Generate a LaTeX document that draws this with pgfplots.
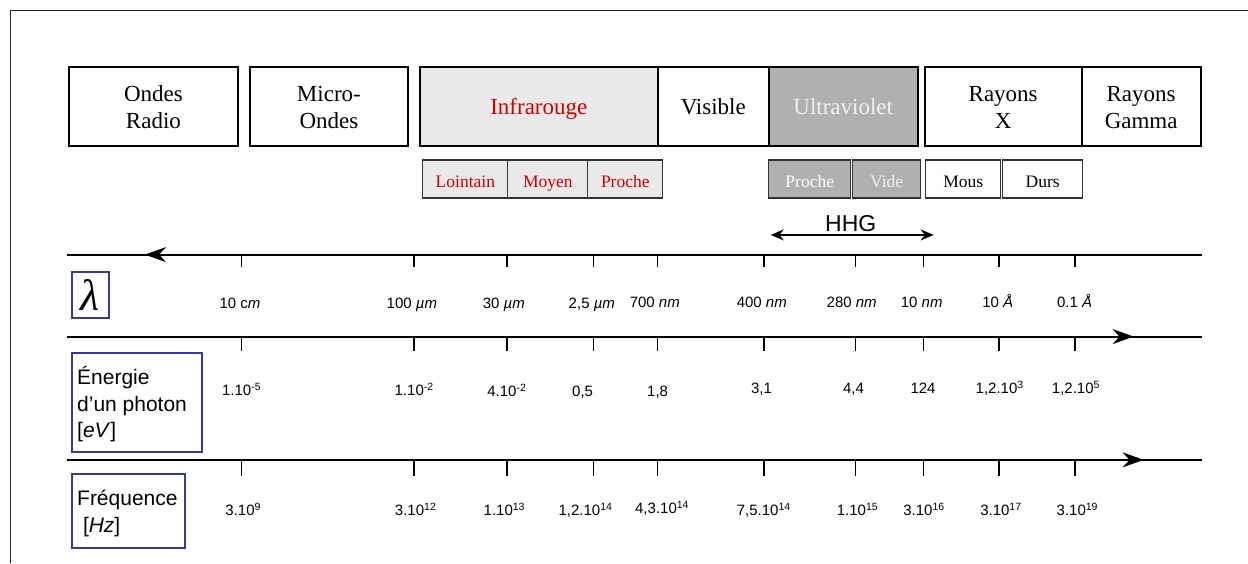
\documentclass[border=0pt]{standalone}
\usepackage{pgfplots}
\pgfplotsset{compat=1.18}
\usepackage{pgfplotstable}
\usepackage{fontspec}
\setmainfont{Liberation Sans}
\newfontfamily\serif{Liberation Serif}
\usetikzlibrary{arrows.meta}
\definecolor{irfill}{RGB}{233,233,233}
\definecolor{uvfill}{RGB}{176,176,176}
\definecolor{redtxt}{RGB}{210,0,0}
\definecolor{boxblue}{RGB}{55,55,160}

\pgfplotstableread[col sep=semicolon]{
x;y1;y2;y3
241.7;260.7;344;468
414.3;260.7;344;468
507.3;260.7;344;468
593.7;260.7;344;468
657.7;260.7;344;468
764;260.7;344;468
855.7;260.7;344;468
923.7;260.7;344;468
999.3;260.7;344;468
1075.3;260.7;344;468
}\ticks

\pgfplotstableread[col sep=semicolon]{
x;y;lab
240;308.5;10 c\textit{m}
412;309;100 \textit{µm}
504;309;30 \textit{µm}
592;309;2,5 \textit{µm}
655;308;700 \textit{nm}
762;307.5;400 \textit{nm}
852;307.5;280 \textit{nm}
922;308;10 \textit{nm}
998;307.5;10 \textit{Å}
1075;307.5;0.1 \textit{Å}
}\wl

\pgfplotstableread[col sep=semicolon]{
x;y;lab
241.7;396;1.10\textsuperscript{-5}
414.3;396;1.10\textsuperscript{-2}
507;396.7;4.10\textsuperscript{-2}
582.8;396.7;0,5
657.8;396.7;1,8
761.7;394;3,1
853.8;394;4,4
923.3;394;124
1000;394;1,2.10\textsuperscript{3}
1076.3;394;1,2.10\textsuperscript{5}
}\en

\pgfplotstableread[col sep=semicolon]{
x;y;lab
243.3;516;3.10\textsuperscript{9}
415.8;516;3.10\textsuperscript{12}
504.5;516;1.10\textsuperscript{13}
585.7;516;1,2.10\textsuperscript{14}
662.3;514;4,3.10\textsuperscript{14}
764;516;7,5.10\textsuperscript{14}
857.8;516;1.10\textsuperscript{15}
924.3;516;3.10\textsuperscript{16}
1001.3;516;3.10\textsuperscript{17}
1077.7;516;3.10\textsuperscript{19}
}\fr

\begin{document}
\begin{tikzpicture}
\begin{axis}[
  scale only axis, width=1248pt, height=563pt,
  xmin=0, xmax=1248, ymin=0, ymax=563, y dir=reverse,
  hide axis, clip=false,
  labelplot/.style={only marks, mark=o, mark size=0pt, mark options={draw opacity=0},
    nodes near coords, point meta=explicit symbolic,
    every node near coord/.append style={anchor=base, inner sep=0pt, font=\fontsize{15}{18}\selectfont, text=black}},
]
\path (0,0) rectangle (1248,563);
% frame
\draw[line width=0.8pt, black!85] (10,563) -- (10,10) -- (1248,10);

% top boxes
\draw[line width=1.8pt] (69,67) rectangle (238,146);
\draw[line width=1.8pt] (250,67) rectangle (408,146);
\filldraw[fill=irfill, line width=1.8pt] (420,67) rectangle (658,146);
\draw[line width=1.8pt] (658,67) rectangle (769,146);
\filldraw[fill=uvfill, line width=1.8pt] (769,67) rectangle (918,146);
\draw[line width=1.8pt] (925,67) rectangle (1082,146);
\draw[line width=1.8pt] (1082,67) rectangle (1201,146);
\begin{scope}[every node/.style={anchor=base, inner sep=0pt, font=\serif\fontsize{23}{27}\selectfont}]
\node at (153.5,101.7) {Ondes};
\node at (153.5,128.3) {Radio};
\node at (329,101.7) {Micro-};
\node at (329,128.3) {Ondes};
\node[text=redtxt] at (539,115) {Infrarouge};
\node at (713.5,115) {Visible};
\node[text=white!94!black] at (843.5,115) {Ultraviolet};
\node at (1003.5,101.7) {Rayons};
\node at (1003.5,128.3) {X};
\node at (1141.5,101.7) {Rayons};
\node at (1141.5,128.3) {Gamma};
\end{scope}

% sub boxes
\begin{scope}[line width=1.2pt, draw=black!80]
\filldraw[fill=irfill] (423,160) rectangle (508,198);
\filldraw[fill=irfill] (508,160) rectangle (588,198);
\filldraw[fill=irfill] (588,160) rectangle (663,198);
\filldraw[fill=uvfill] (769,160) rectangle (851,198);
\filldraw[fill=uvfill] (853,160) rectangle (921,198);
\draw (926,160) rectangle (1001,198);
\draw (1003,160) rectangle (1083,198);
\end{scope}
\begin{scope}[every node/.style={anchor=base, inner sep=0pt, font=\serif\fontsize{17.5}{20}\selectfont}]
\node[text=redtxt] at (465.5,187.5) {Lointain};
\node[text=redtxt] at (548,187.5) {Moyen};
\node[text=redtxt] at (625.5,187.5) {Proche};
\node[text=white] at (810,187.5) {Proche};
\node[text=white!94!black] at (887,187.5) {Vide};
\node at (963.5,187.5) {Mous};
\node at (1043,187.5) {Durs};
\end{scope}

% HHG
\draw[{Stealth[length=13pt,width=11pt]}-{Stealth[length=13pt,width=11pt]}, line width=1.5pt] (771,235) -- (934,235);
\node[anchor=base, inner sep=0pt, font=\fontsize{23}{26}\selectfont] at (851,232) {HHG};

% main lines
\draw[line width=2pt] (67,254.7) -- (1202,254.7);
\draw[line width=2pt] (67,336.7) -- (1202,336.7);
\draw[line width=2pt] (67,460) -- (1202,460);
\draw[line width=2pt, -{Stealth[length=21pt,width=15pt]}] (220,254.7) -- (145,254.7);
\draw[line width=2pt, -{Stealth[length=21pt,width=15pt]}] (1060,336.7) -- (1134,336.7);
\draw[line width=2pt, -{Stealth[length=21pt,width=15pt]}] (1070,460) -- (1144,460);

% ticks
\addplot[only marks, mark=|, mark size=6pt, line width=1.5pt, black] table[x=x, y=y1] {\ticks};
\addplot[only marks, mark=|, mark size=7pt, line width=1.5pt, black] table[x=x, y=y2] {\ticks};
\addplot[only marks, mark=|, mark size=8pt, line width=1.5pt, black] table[x=x, y=y3] {\ticks};

% tick labels
\addplot[labelplot] table[x=x, y=y, meta=lab] {\wl};
\addplot[labelplot] table[x=x, y=y, meta=lab] {\en};
\addplot[labelplot] table[x=x, y=y, meta=lab] {\fr};

% quantity boxes
\draw[boxblue, line width=1.5pt] (72,272) rectangle (109,318);
\node[inner sep=0pt, font=\serif\itshape\fontsize{44}{46}\selectfont] at (90,295) {λ};
\draw[boxblue, line width=1.5pt] (72,353) rectangle (202,452);
\begin{scope}[every node/.style={anchor=base west, inner sep=0pt, font=\fontsize{21}{26}\selectfont}]
\node at (77,385) {Énergie};
\node at (77,411.7) {d’un photon};
\node at (77,438) {[\textit{eV}]};
\node at (77,506) {Fréquence};
\node at (77,532.7) {\ [\textit{Hz}]};
\end{scope}
\draw[boxblue, line width=1.5pt] (72,474) rectangle (185,548);
\end{axis}
\end{tikzpicture}
\end{document}
